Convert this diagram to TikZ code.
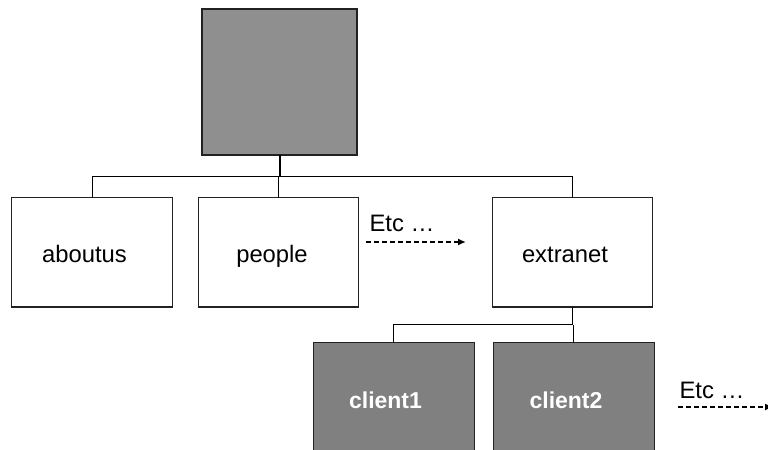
\documentclass[tikz,border=0pt]{standalone}
\usepackage{fontspec}
\setmainfont{Liberation Sans}
\usetikzlibrary{arrows.meta}
\definecolor{topgray}{HTML}{8F8F8F}
\definecolor{clientgray}{HTML}{808080}
\definecolor{edge}{HTML}{222222}
\begin{document}
\begin{tikzpicture}[x=1bp,y=-1bp,
  box/.style={draw=edge, line width=1bp, fill=white, minimum width=160bp, minimum height=109bp, inner sep=0pt, outer sep=0pt},
  topbox/.style={draw=edge, line width=1.5bp, fill=topgray, minimum width=155bp, minimum height=146bp, inner sep=0pt, outer sep=0pt},
  clientbox/.style={draw=edge, line width=1bp, fill=clientgray, minimum width=161bp, minimum height=112bp, inner sep=0pt, outer sep=0pt},
  lbl/.style={anchor=base, inner sep=0pt, font=\fontsize{23.8bp}{28bp}\selectfont},
  clbl/.style={lbl, text=white, font=\fontsize{23bp}{28bp}\selectfont\bfseries},
  conn/.style={draw=black, line width=1bp},
  etcarrow/.style={draw=black, line width=1.8bp, dash pattern=on 5bp off 3bp, -{Latex[length=8bp,width=7bp]}}
]
\useasboundingbox (0,0) rectangle (768,450);
\fill[white] (0,0) rectangle (768,450);

% boxes
\node[topbox] (top) at (279.5,82) {};
\node[box] (aboutus) at (92,252.5) {};
\node[box] (people) at (278,252.5) {};
\node[box] (extranet) at (572.5,252.5) {};
\node[clientbox] (client1) at (393.5,399) {};
\node[clientbox] (client2) at (573.5,399) {};

% labels
\node[lbl] (laboutus) at (84.5,263) {aboutus};
\node[lbl] (lpeople) at (272,263) {people};
\node[lbl] (lextranet) at (565,263) {extranet};
\node[clbl] (lclient1) at (385.5,408) {client1};
\node[clbl] (lclient2) at (566,408) {client2};

% connectors
\coordinate (bus1) at (280,177);
\coordinate (bus2) at (573,325);
\draw[line width=2bp] (top.south) -- (top.south |- bus1);
\draw[conn] (aboutus.north) -- (aboutus.north |- bus1) -- (extranet.north |- bus1) -- (extranet.north);
\draw[conn] (people.north) -- (people.north |- bus1);
\draw[conn] (client1.north) -- (client1.north |- bus2) -- (extranet.south |- bus2) -- (extranet.south);
\draw[conn] (client2.north) -- (client2.north |- bus2);

% Etc arrows
\node[lbl] (etc1) at (402,232) {Etc …};
\coordinate (etc1s) at (366,242);
\coordinate (etc1e) at (466,242);
\draw[etcarrow] (etc1s) -- (etc1e);

\node[lbl] (etc2) at (712,398) {Etc …};
\coordinate (etc2s) at (678,407);
\coordinate (etc2e) at (773,407);
\draw[etcarrow] (etc2s) -- (etc2e);
\end{tikzpicture}
\end{document}
